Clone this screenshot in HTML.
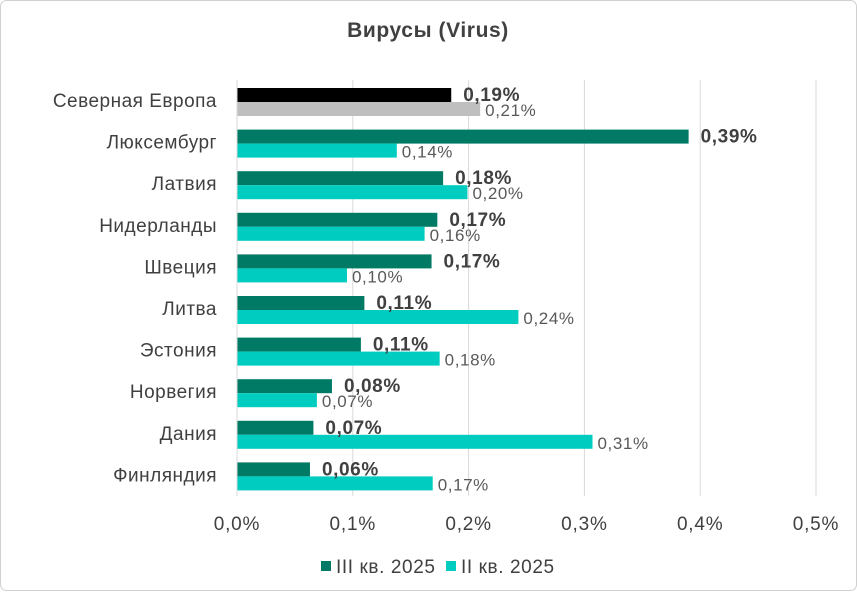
<!DOCTYPE html>
<html><head><meta charset="utf-8"><style>
body{margin:0;background:#fff;font-family:"Liberation Sans",sans-serif}
#wrap{position:relative;width:857px;height:591px}
</style></head><body>
<div id="wrap">
<svg id="chart" width="857" height="591"></svg>
</div>
<script>
const categories=["Северная Европа","Люксембург","Латвия","Нидерланды","Швеция","Литва","Эстония","Норвегия","Дания","Финляндия"];
const seriesQ3=[0.185,0.39,0.178,0.173,0.168,0.11,0.107,0.082,0.066,0.063];
const seriesQ2=[0.21,0.138,0.199,0.162,0.095,0.243,0.175,0.069,0.307,0.169];
const labelsQ3=["0,19%","0,39%","0,18%","0,17%","0,17%","0,11%","0,11%","0,08%","0,07%","0,06%"];
const labelsQ2=["0,21%","0,14%","0,20%","0,16%","0,10%","0,24%","0,18%","0,07%","0,31%","0,17%"];
const ticks=[0,0.1,0.2,0.3,0.4,0.5];
const tickLabels=["0,0%","0,1%","0,2%","0,3%","0,4%","0,5%"];
const NS="http://www.w3.org/2000/svg";
const svg=document.getElementById("chart");
function x(v){return 237+v*1158;}
function yBand(i){return 80+i*41.6;}
function el(tag,attrs,txt){const e=document.createElementNS(NS,tag);for(const k in attrs)e.setAttribute(k,attrs[k]);if(txt!==undefined)e.textContent=txt;svg.appendChild(e);return e;}
let e;
e=el("rect",{x:0.5,y:0.5,width:856,height:590,rx:6,fill:"#fff",stroke:"#d0d0d0"});

e=el("text",{x:428,y:37,"text-anchor":"middle","font-size":"21","font-weight":"bold","letter-spacing":"0.6",fill:"#404040"},"Вирусы (Virus)");

ticks.forEach((t,i)=>{
 const g=el("line",{x1:x(t),x2:x(t),y1:80,y2:496,stroke:"#d9d9d9","stroke-width":1});
 
 const l=el("text",{x:x(t),y:530,"text-anchor":"middle","font-size":"19","letter-spacing":"0.8",fill:"#404040"},tickLabels[i]);
 
});
categories.forEach((c,i)=>{
 const y0=yBand(i),cy=y0+21;
 const t=el("text",{x:217,y:cy+6,"text-anchor":"end","font-size":"19","letter-spacing":"0.5",fill:"#404040"},c);
 
 const d=i===0?"#000":"#007a64",lc=i===0?"#bfbfbf":"#00ccc0";
 const b1=el("rect",{x:x(0),y:cy-13,width:x(seriesQ3[i])-x(0),height:14,fill:d});
 
 const b2=el("rect",{x:x(0),y:cy+1,width:x(seriesQ2[i])-x(0),height:14,fill:lc});
 
 const l1=el("text",{x:x(seriesQ3[i])+12,y:cy,"font-size":"19","font-weight":"bold","letter-spacing":"0.6",fill:"#404040"},labelsQ3[i]);
 
 const l2=el("text",{x:x(seriesQ2[i])+5,y:cy+15,"font-size":"17","letter-spacing":"0.6",fill:"#595959"},labelsQ2[i]);
 
});
e=el("line",{x1:237,x2:237,y1:80,y2:496,stroke:"#d9d9d9"});

e=el("rect",{x:321,y:561,width:10,height:10,fill:"#007a64"});

e=el("text",{x:336,y:573,"font-size":"19","letter-spacing":"0.6",fill:"#404040"},"III кв. 2025");

e=el("rect",{x:446,y:561,width:10,height:10,fill:"#00ccc0"});

e=el("text",{x:461,y:573,"font-size":"19","letter-spacing":"0.6",fill:"#404040"},"II кв. 2025");

</script>
</body></html>
